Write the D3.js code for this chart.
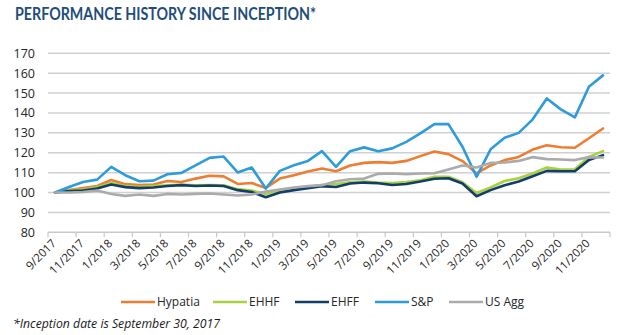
<!DOCTYPE html>
<html>
<head>
<meta charset="utf-8">
<script src="https://cdn.jsdelivr.net/npm/d3@7"></script>
<style>
  html, body { margin: 0; padding: 0; background: #fff; }
  svg { display: block; }
</style>
</head>
<body>
<svg id="chart" width="626" height="335"></svg>
<script>
// Monthly categories, inception 9/2017 through 12/2020
const months = [
  "9/2017","10/2017","11/2017","12/2017",
  "1/2018","2/2018","3/2018","4/2018","5/2018","6/2018","7/2018","8/2018","9/2018","10/2018","11/2018","12/2018",
  "1/2019","2/2019","3/2019","4/2019","5/2019","6/2019","7/2019","8/2019","9/2019","10/2019","11/2019","12/2019",
  "1/2020","2/2020","3/2020","4/2020","5/2020","6/2020","7/2020","8/2020","9/2020","10/2020","11/2020","12/2020"
];

// Labels shown under the axis (every second month)
const tickLabels = [
  "9/2017","11/2017","1/2018","3/2018","5/2018","7/2018","9/2018","11/2018","1/2019","3/2019",
  "5/2019","7/2019","9/2019","11/2019","1/2020","3/2020","5/2020","7/2020","9/2020","11/2020"
];

const yTicks = [80, 90, 100, 110, 120, 130, 140, 150, 160, 170];

// Growth of 100 since inception
const hypatia = [100, 101.3, 102.3, 103.3, 106.3, 104.2, 103.7, 104.0, 105.8, 105.3, 107.0, 108.4, 108.1, 104.3, 104.8, 102.3,
  107.0, 108.7, 110.6, 112.1, 110.7, 113.6, 114.9, 115.3, 114.9, 115.9, 118.3, 120.6, 119.3, 115.8, 109.6, 113.6,
  116.3, 117.9, 121.6, 123.8, 122.8, 122.5, 127.3, 132.2];
const ehhf = [100, 101.2, 101.5, 102.6, 104.8, 103.3, 102.9, 103.2, 103.6, 104.0, 103.6, 103.8, 103.6, 101.7, 101.0, 99.3,
  101.2, 102.0, 102.8, 103.8, 104.3, 105.2, 105.5, 105.0, 104.8, 105.3, 106.2, 107.9, 107.9, 105.2, 99.8, 102.5,
  105.8, 107.2, 109.6, 112.6, 111.6, 111.7, 117.9, 120.8];
const ehff = [100, 100.8, 101.0, 102.0, 104.0, 102.7, 102.2, 102.5, 103.3, 103.7, 103.3, 103.5, 103.3, 101.2, 100.3, 97.6,
  100.0, 101.2, 102.2, 103.2, 102.8, 104.5, 105.0, 104.7, 103.8, 104.3, 105.5, 106.9, 107.2, 104.5, 98.1, 101.2,
  103.7, 105.5, 108.2, 110.9, 110.7, 110.7, 116.3, 118.8];
const sp = [100, 102.8, 105.3, 106.5, 112.9, 108.7, 105.7, 106.0, 109.2, 109.9, 113.7, 117.4, 118.1, 110.1, 112.6, 102.0,
  110.9, 113.7, 115.9, 120.8, 112.9, 120.8, 122.7, 120.8, 122.2, 125.5, 129.7, 134.4, 134.4, 123.0, 107.9, 121.7,
  127.5, 130.0, 136.8, 147.3, 141.8, 137.8, 153.2, 158.9];
const usAgg = [100, 100.0, 100.3, 101.0, 99.3, 98.3, 99.0, 98.3, 99.3, 99.0, 99.3, 99.5, 99.0, 98.5, 99.0, 100.5,
  101.5, 102.5, 103.2, 103.7, 105.7, 106.7, 107.0, 109.4, 109.6, 109.2, 109.6, 109.7, 111.6, 113.6, 112.6, 114.9,
  115.1, 115.9, 117.8, 116.8, 116.6, 116.3, 117.8, 117.6];

const seriesNames = ["Hypatia", "EHHF", "EHFF", "S&P", "US Agg"];
const seriesColors = ["#ED7D31", "#A9D13F", "#133E6B", "#2E9BDA", "#ABABAB"];
const seriesValues = [hypatia, ehhf, ehff, sp, usAgg];

const svg = d3.select("#chart");
const plot = { left: 48, right: 610, top: 53.3, bottom: 232.3 };

const x = d3.scalePoint().domain(months).range([plot.left, plot.right]).padding(0.5);
const step = x.step();
const y = d3.scaleLinear().domain([80, 170]).range([plot.bottom, plot.top]);

// Title
svg.append("text")
  .attr("x", 15).attr("y", 19.5)
  .attr("font-family", "Lato, 'Open Sans', sans-serif")
  .attr("font-weight", 700)
  .attr("font-size", 16.5)
  .attr("fill", "#1F4E79")
  .attr("textLength", 301)
  .attr("lengthAdjust", "spacingAndGlyphs")
  .text("PERFORMANCE HISTORY SINCE INCEPTION*");

// Horizontal gridlines
svg.append("g")
  .selectAll("line")
  .data(yTicks.filter(v => v > 80))
  .join("line")
  .attr("x1", plot.left).attr("x2", plot.right)
  .attr("y1", d => y(d)).attr("y2", d => y(d))
  .attr("stroke", "#D0D0D0").attr("stroke-width", 1.5);

// Y axis labels
const yAxis = d3.axisLeft(y).tickValues(yTicks).tickSize(0).tickPadding(13);
const yG = svg.append("g").attr("transform", `translate(${plot.left},0)`).call(yAxis);
yG.select(".domain").remove();
yG.selectAll("text")
  .attr("font-family", "'Open Sans', sans-serif")
  .attr("font-size", 12.5)
  .attr("fill", "#262626");

// Category axis: line, tick marks between every second month, rotated labels
const xg = svg.append("g");
xg.append("line")
  .attr("x1", plot.left).attr("x2", plot.right)
  .attr("y1", plot.bottom).attr("y2", plot.bottom)
  .attr("stroke", "#C8C8C8").attr("stroke-width", 1.5);
const boundaries = d3.range(0, months.length + 1, 2);
xg.selectAll("line.tick")
  .data(boundaries)
  .join("line")
  .attr("class", "tick")
  .attr("x1", i => plot.left + i * step).attr("x2", i => plot.left + i * step)
  .attr("y1", plot.bottom).attr("y2", plot.bottom + 5)
  .attr("stroke", "#C8C8C8").attr("stroke-width", 1.2);
xg.selectAll("text")
  .data(tickLabels)
  .join("text")
  .attr("transform", d => `translate(${x(d) - 1},${plot.bottom + 9}) rotate(-45)`)
  .attr("text-anchor", "end")
  .attr("dy", "0.35em")
  .attr("font-family", "'Open Sans', sans-serif")
  .attr("font-size", 11.5)
  .attr("fill", "#262626")
  .text(d => d);

// Series lines
const line = d3.line()
  .x((d, i) => x(months[i]))
  .y(d => y(d));
svg.append("g")
  .selectAll("path")
  .data(seriesValues)
  .join("path")
  .attr("d", d => line(d))
  .attr("fill", "none")
  .attr("stroke", (d, i) => seriesColors[i])
  .attr("stroke-width", 2.6)
  .attr("stroke-linejoin", "round")
  .attr("stroke-linecap", "round");

// Legend
const legendX = [121, 213, 295, 375, 449];
const legend = svg.append("g");
const items = legend.selectAll("g")
  .data(seriesNames)
  .join("g")
  .attr("transform", (d, i) => `translate(${legendX[i]},302)`);
items.append("line")
  .attr("x1", 0).attr("x2", 34).attr("y1", 0).attr("y2", 0)
  .attr("stroke", (d, i) => seriesColors[i])
  .attr("stroke-width", 2.6);
items.append("text")
  .attr("x", 36).attr("y", 0).attr("dy", "0.35em")
  .attr("font-family", "'Open Sans', sans-serif")
  .attr("font-size", 12)
  .attr("fill", "#262626")
  .text(d => d);

// Footnote
svg.append("text")
  .attr("x", 13).attr("y", 328)
  .attr("font-family", "'Open Sans', sans-serif")
  .attr("font-style", "italic")
  .attr("font-size", 12)
  .attr("fill", "#1a1a1a")
  .attr("textLength", 207)
  .attr("lengthAdjust", "spacingAndGlyphs")
  .text("*Inception date is September 30, 2017");
</script>
</body>
</html>
